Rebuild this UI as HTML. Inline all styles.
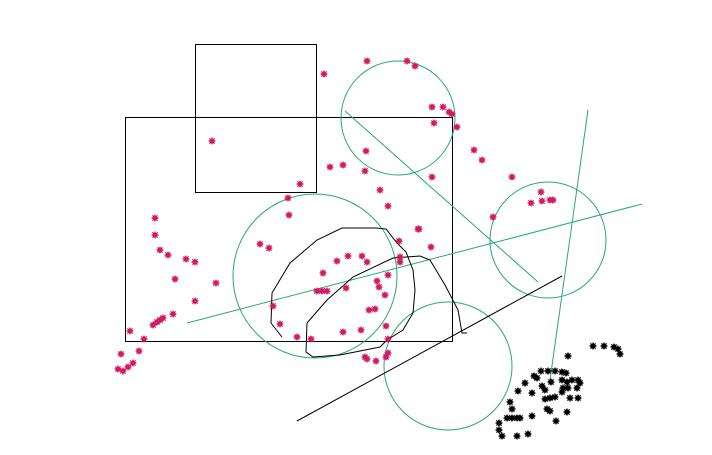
<!DOCTYPE html>
<html><head><meta charset="utf-8"><style>
html,body{margin:0;padding:0;background:#fff;width:712px;height:455px;overflow:hidden}
svg{display:block}
</style></head><body>
<svg id="chart" width="712" height="455" xmlns="http://www.w3.org/2000/svg">
<rect x="0" y="0" width="712" height="455" fill="#fff"/>
<g id="shapes"></g>
<g id="pts"></g>
</svg>
<script>
const pinkX=[212,324,367,407,415,432,443,449,452,434,457,366,330,343,365,474,482,432,512,380,388,541,531,542,550,553,493,419,399,431,400,400,300,288,289,155,155,160,168,260,269,186,195,337,348,362,367,175,216,323,388,377,379,317,322,327,346,385,195,273,369,375,173,153,157,160,163,130,280,297,311,343,361,386,144,388,121,139,388,386,365,367,376,118,123,128,133,418];
const pinkY=[141,74,61,61,66,107,107,112,114,123,127,151,167,165,171,150,160,177,177,190,206,192,203,201,200,200,217,229,241,247,257,262,184,198,215,218,235,250,255,244,248,259,262,261,256,256,262,279,283,273,275,281,287,291,291,291,288,295,301,306,310,309,314,325,322,320,318,331,324,337,339,332,330,326,339,339,354,351,353,357,357,359,361,369,371,367,363,229];
const blackX=[593,604,614,618,620,568,541,548,555,562,566,534,537,525,562,567,572,578,580,542,551,518,532,562,563,568,577,545,570,578,545,550,555,510,512,547,550,567,507,512,517,520,532,556,499,499,502,517,528];
const blackY=[346,346,347,349,354,356,371,371,371,372,373,376,378,383,380,382,380,380,383,386,382,391,393,392,388,388,388,390,398,398,399,398,397,402,409,409,411,412,418,418,418,418,416,421,423,430,436,436,434];
const circCX=[398,315,548,448];
const circCY=[118,276,240,366];
const circR=[57,82,58,64];
const NS="http://www.w3.org/2000/svg";
const sh=document.getElementById('shapes'), pg=document.getElementById('pts');
function mk(t,a,p){const e=document.createElementNS(NS,t);for(const k in a)e.setAttribute(k,a[k]);p.appendChild(e);return e;}
let e;
e=mk('rect',{x:125.5,y:117.5,width:327,height:224,fill:'none',stroke:'#000','stroke-width':1},sh);


e=mk('rect',{x:195.5,y:44.5,width:121,height:148,fill:'none',stroke:'#000','stroke-width':1},sh);


for(let i=0;i<circCX.length;i++){
 e=mk('circle',{cx:circCX[i],cy:circCY[i],r:circR[i],fill:'none',stroke:'#2aa876','stroke-width':1},sh);
 
 
}
const gl=[[345,111,538,282],[187,323,642,204],[588,110,550,380]];
gl.forEach(l=>{e=mk('line',{x1:l[0],y1:l[1],x2:l[2],y2:l[3],stroke:'#2aa876','stroke-width':1},sh);
 
 });
e=mk('line',{x1:297,y1:421,x2:562,y2:276,stroke:'#000','stroke-width':1},sh);


e=mk('polyline',{points:'282,337 271,323 272,293 290,263 317,240 342,228 376,228 386,229 397,243 406,252 413,270 415,290 413,313 403,330 387,340 380,347 340,355 313,357 306,352 307,323 327,300 353,277 393,258 420,256 430,260 445,285 458,310 462,333 467,333',fill:'none',stroke:'#000','stroke-width':1},sh);


function star(x,y,c){
 const g=mk('g',{},pg);
 mk('circle',{cx:x,cy:y,r:2.6,fill:c},g);
 mk('path',{d:`M${x-3.5},${y}H${x+3.5}M${x},${y-3.5}V${y+3.5}M${x-2.6},${y-2.6}L${x+2.6},${y+2.6}M${x-2.6},${y+2.6}L${x+2.6},${y-2.6}`,stroke:c,'stroke-width':1.2},g);
 return g;
}
for(let i=0;i<pinkX.length;i++){e=star(pinkX[i],pinkY[i],'#d01c62');
 
 }
for(let i=0;i<blackX.length;i++){e=star(blackX[i],blackY[i],'#000');
 
 }
</script>
</body></html>
